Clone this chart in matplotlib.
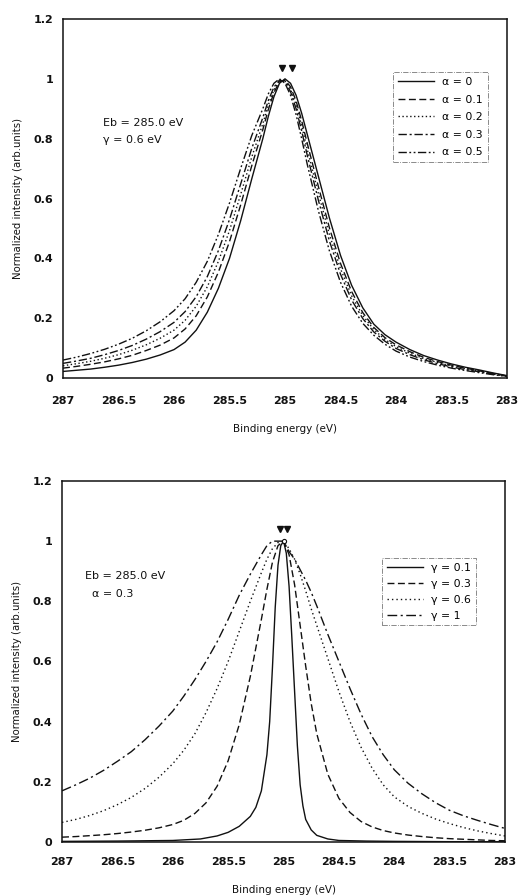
import matplotlib
matplotlib.use("Agg")
import matplotlib.pyplot as plt

# ---- upper panel: gamma = 0.6 eV, different alpha ----
energy_top = [287, 286.875, 286.75, 286.625, 286.5, 286.375, 286.25, 286.125, 286, 285.9,
              285.8, 285.7, 285.6, 285.5, 285.4, 285.3, 285.2, 285.15, 285.1, 285.05,
              285, 284.95, 284.9, 284.85, 284.8, 284.7, 284.6, 284.5, 284.4, 284.3,
              284.2, 284.1, 284, 283.875, 283.75, 283.625, 283.5, 283.375, 283.25, 283.125,
              283]

alpha_labels = ['α = 0', 'α = 0.1', 'α = 0.2', 'α = 0.3', 'α = 0.5']
alpha_0 = [0.022, 0.026, 0.030, 0.036, 0.043, 0.052, 0.063, 0.077, 0.095, 0.12,
           0.16, 0.22, 0.30, 0.40, 0.525, 0.665, 0.80, 0.875, 0.94, 0.985,
           1.0, 0.985, 0.945, 0.885, 0.815, 0.675, 0.535, 0.41, 0.31, 0.235,
           0.18, 0.145, 0.12, 0.095, 0.075, 0.06, 0.047, 0.036, 0.027, 0.017,
           0.008]
alpha_01 = [0.033, 0.039, 0.046, 0.054, 0.064, 0.076, 0.092, 0.110, 0.134, 0.164,
            0.208, 0.271, 0.354, 0.456, 0.578, 0.709, 0.830, 0.898, 0.954, 0.990,
            0.996, 0.973, 0.926, 0.860, 0.785, 0.641, 0.502, 0.383, 0.289, 0.219,
            0.169, 0.135, 0.111, 0.088, 0.069, 0.055, 0.043, 0.033, 0.024, 0.015,
            0.007]
alpha_02 = [0.041, 0.048, 0.056, 0.066, 0.078, 0.093, 0.111, 0.133, 0.160, 0.193,
            0.240, 0.305, 0.390, 0.493, 0.613, 0.738, 0.850, 0.913, 0.963, 0.993,
            0.993, 0.965, 0.913, 0.843, 0.765, 0.618, 0.480, 0.365, 0.275, 0.209,
            0.162, 0.129, 0.105, 0.083, 0.065, 0.052, 0.040, 0.031, 0.023, 0.014,
            0.007]
alpha_03 = [0.049, 0.057, 0.066, 0.078, 0.092, 0.109, 0.130, 0.155, 0.186, 0.222,
            0.272, 0.339, 0.426, 0.530, 0.648, 0.767, 0.870, 0.928, 0.972, 0.996,
            0.990, 0.957, 0.900, 0.826, 0.745, 0.595, 0.458, 0.347, 0.261, 0.199,
            0.154, 0.123, 0.099, 0.078, 0.061, 0.048, 0.037, 0.028, 0.021, 0.013,
            0.006]
alpha_05 = [0.060, 0.070, 0.082, 0.096, 0.113, 0.133, 0.158, 0.188, 0.225, 0.265,
            0.32, 0.39, 0.48, 0.585, 0.70, 0.81, 0.90, 0.95, 0.985, 1.0,
            0.985, 0.945, 0.88, 0.80, 0.715, 0.56, 0.425, 0.32, 0.24, 0.183,
            0.143, 0.113, 0.09, 0.07, 0.055, 0.043, 0.033, 0.025, 0.018, 0.011,
            0.005]

# ---- lower panel: alpha = 0.3, different gamma ----
energy_g01 = [287, 286.5, 286, 285.75, 285.6, 285.5, 285.4, 285.3, 285.25, 285.2,
              285.15, 285.125, 285.1, 285.075, 285.05, 285.025, 285.0, 284.975, 284.95, 284.925,
              284.9, 284.875, 284.85, 284.825, 284.8, 284.75, 284.7, 284.6, 284.5, 284.25,
              284, 283.5, 283]
gamma_01 = [0.002, 0.003, 0.005, 0.01, 0.02, 0.032, 0.052, 0.085, 0.115, 0.17,
            0.29, 0.40, 0.58, 0.78, 0.92, 0.985, 1.0, 0.96, 0.85, 0.68,
            0.50, 0.32, 0.19, 0.12, 0.075, 0.04, 0.022, 0.01, 0.005, 0.003,
            0.002, 0.001, 0.001]

energy_bot = [287, 286.875, 286.75, 286.625, 286.5, 286.375, 286.25, 286.125, 286, 285.9,
              285.8, 285.7, 285.6, 285.5, 285.4, 285.3, 285.2, 285.15, 285.1, 285.05,
              285.0, 284.95, 284.9, 284.85, 284.8, 284.75, 284.7, 284.6, 284.5, 284.4,
              284.3, 284.2, 284.1, 284, 283.875, 283.75, 283.625, 283.5, 283.375, 283.25,
              283.125, 283]
gamma_03 = [0.016, 0.018, 0.021, 0.024, 0.028, 0.033, 0.039, 0.047, 0.058, 0.072,
            0.095, 0.13, 0.185, 0.27, 0.39, 0.55, 0.74, 0.84, 0.93, 0.985,
            1.0, 0.955, 0.855, 0.72, 0.585, 0.46, 0.36, 0.225, 0.145, 0.098,
            0.068, 0.05, 0.038, 0.03, 0.023, 0.018, 0.014, 0.011, 0.009, 0.007,
            0.005, 0.004]
gamma_06 = [0.065, 0.075, 0.088, 0.104, 0.124, 0.148, 0.178, 0.215, 0.26, 0.305,
            0.36, 0.43, 0.51, 0.60, 0.70, 0.80, 0.895, 0.94, 0.975, 0.995,
            1.0, 0.975, 0.94, 0.89, 0.835, 0.775, 0.72, 0.61, 0.50, 0.40,
            0.315, 0.245, 0.19, 0.15, 0.118, 0.095, 0.076, 0.061, 0.048, 0.037,
            0.028, 0.02]
gamma_1 = [0.17, 0.19, 0.212, 0.238, 0.268, 0.30, 0.34, 0.385, 0.435, 0.485,
           0.54, 0.60, 0.665, 0.74, 0.82, 0.89, 0.955, 0.985, 1.0, 1.0,
           1.0, 0.965, 0.94, 0.905, 0.87, 0.83, 0.785, 0.69, 0.60, 0.51,
           0.425, 0.35, 0.29, 0.24, 0.195, 0.16, 0.13, 0.105, 0.087, 0.072,
           0.058, 0.045]
gamma_labels = ['γ = 0.1', 'γ = 0.3', 'γ = 0.6', 'γ = 1']

peaks_top = [285.03, 284.94]
peaks_bot = [285.03, 284.97]
x_ticks = [287, 286.5, 286, 285.5, 285, 284.5, 284, 283.5, 283]
x_ticklabels = ['287', '286.5', '286', '285.5', '285', '284.5', '284', '283.5', '283']
y_ticks = [0, 0.2, 0.4, 0.6, 0.8, 1, 1.2]
y_ticklabels = ['0', '0.2', '0.4', '0.6', '0.8', '1', '1.2']

styles_top = ['-', (0, (5, 2.5)), (0, (1, 1.8)), (0, (6, 2, 1.5, 2)),
              (0, (6, 1.8, 1.3, 1.8, 1.3, 1.8))]
styles_bot = ['-', (0, (5, 2.5)), (0, (1, 2.2)), (0, (7, 2.5, 1.5, 2.5))]

ink = '#111111'
plt.rcParams['font.family'] = ['DejaVu Sans']

fig = plt.figure(figsize=(5.19, 8.96), dpi=100)
ax1 = fig.add_axes([0.1214, 0.5781, 0.8555, 0.4007])
ax2 = fig.add_axes([0.1195, 0.0603, 0.8536, 0.4029])


def style_axis(ax, xpad):
    ax.set_xlim(287, 283)
    ax.set_ylim(0, 1.2)
    ax.set_xticks(x_ticks)
    ax.set_xticklabels(x_ticklabels, fontweight='bold')
    ax.set_yticks(y_ticks)
    ax.set_yticklabels(y_ticklabels, fontweight='bold')
    ax.tick_params(axis='x', length=0, pad=xpad, labelsize=8, colors=ink)
    ax.tick_params(axis='y', length=0, pad=7, labelsize=8, colors=ink)
    for s in ax.spines.values():
        s.set_linewidth(1.1)
        s.set_color(ink)
    ax.set_xlabel('Binding energy (eV)', fontsize=7.5, color=ink)
    ax.set_ylabel('Normalized intensity (arb.units)', fontsize=7.3, color=ink)


def dashdot_legend(ax, anchor, spacing):
    leg = ax.legend(loc='upper left', bbox_to_anchor=anchor, fontsize=7.8,
                    handlelength=3.3, labelspacing=spacing, handletextpad=0.8,
                    fancybox=False, borderpad=0.45, borderaxespad=0)
    leg.get_frame().set_linestyle('-.')
    leg.get_frame().set_linewidth(0.6)
    leg.get_frame().set_edgecolor('#555555')


# upper panel
series_top = [alpha_0, alpha_01, alpha_02, alpha_03, alpha_05]
for vals, ls, lab in zip(series_top, styles_top, alpha_labels):
    ax1.plot(energy_top, vals, color=ink, linestyle=ls, linewidth=1.0, label=lab)
ax1.plot(peaks_top, [1.035, 1.035], linestyle='none', marker='v', color=ink, markersize=4.5)
style_axis(ax1, 13)
ax1.xaxis.set_label_coords(0.5, -0.128)
ax1.yaxis.set_label_coords(-0.09, 0.5)
ax1.text(0.09, 0.71, 'Eb = 285.0 eV', transform=ax1.transAxes, fontsize=8, va='center', color=ink)
ax1.text(0.09, 0.663, 'γ = 0.6 eV', transform=ax1.transAxes, fontsize=8, va='center', color=ink)
dashdot_legend(ax1, (0.743, 0.852), 0.7)

# lower panel
ax2.plot(energy_g01, gamma_01, color=ink, linestyle=styles_bot[0], linewidth=1.0, label=gamma_labels[0])
for vals, ls, lab in zip([gamma_03, gamma_06, gamma_1], styles_bot[1:], gamma_labels[1:]):
    ax2.plot(energy_bot, vals, color=ink, linestyle=ls, linewidth=1.0, label=lab)
ax2.plot(peaks_bot, [1.04, 1.04], linestyle='none', marker='v', color=ink, markersize=4.5)
ax2.plot([285.0], [1.0], linestyle='none', marker='o', markersize=3, markerfacecolor='white',
         markeredgecolor=ink, markeredgewidth=0.8)
style_axis(ax2, 11)
ax2.xaxis.set_label_coords(0.5, -0.118)
ax2.yaxis.set_label_coords(-0.09, 0.5)
ax2.text(0.052, 0.737, 'Eb = 285.0 eV', transform=ax2.transAxes, fontsize=8, va='center', color=ink)
ax2.text(0.068, 0.687, 'α = 0.3', transform=ax2.transAxes, fontsize=8, va='center', color=ink)
dashdot_legend(ax2, (0.722, 0.787), 0.55)

fig.savefig('out.png', dpi=100)
